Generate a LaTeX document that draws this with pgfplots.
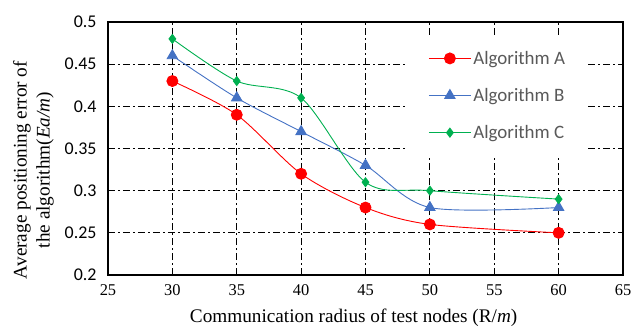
\documentclass[border=0pt]{standalone}
\usepackage{fontspec}
\setmainfont{Liberation Serif}
\newfontfamily\carlito{Carlito}
\usepackage{pgfplots}
\pgfplotsset{compat=1.18}
\definecolor{cA}{RGB}{255,0,0}
\definecolor{cB}{RGB}{68,114,196}
\definecolor{cC}{RGB}{0,176,80}
\definecolor{lgray}{RGB}{89,89,89}
\newcommand\yt[1]{{\carlito\fontsize{18}{20}\selectfont #1}}
\newcommand\xt[1]{{\fontsize{16.5}{18}\selectfont #1}}
\begin{document}
\begin{tikzpicture}
\begin{axis}[
  at={(0,0)}, anchor=south west,
  scale only axis, width=515bp, height=253bp,
  xmin=25, xmax=65, ymin=0.2, ymax=0.5,
  xtick={25,30,35,40,45,50,55,60,65},
  xticklabels={\xt{25},\xt{30},\xt{35},\xt{40},\xt{45},\xt{50},\xt{55},\xt{60},\xt{65}},
  ytick={0.2,0.25,0.3,0.35,0.4,0.45,0.5},
  yticklabels={\yt{0.2},\yt{0.25},\yt{0.3},\yt{0.35},\yt{0.4},\yt{0.45},\yt{0.5}},
  major tick length=0pt,
  axis line style={black, line width=1.4bp},
  grid=major,
  major grid style={black, line width=1.1bp, dash pattern=on 7bp off 3bp on 2bp off 3bp},
  yticklabel style={xshift=-8bp},
  xticklabel style={yshift=-6bp},
  xlabel={Communication radius of test nodes (R/\textit{m})},
  xlabel style={font=\fontsize{19.3}{21}\selectfont, at={(axis description cs:0.477,-0.17)}, anchor=center},
  ylabel={Average positioning error of\\the algorithm(\textit{Ea/m})},
  ylabel style={font=\fontsize{19.3}{23}\selectfont, align=center, at={(axis description cs:-0.1447,0.415)}, anchor=center, rotate=0},
  legend cell align=left,
  legend style={at={(axis description cs:0.583,0.949)}, anchor=north west, draw=none, fill=white,
    font=\carlito\fontsize{19}{20}\selectfont, text=lgray, inner xsep=20bp, inner ysep=14bp, row sep=18.5bp},
  legend image code/.code={\draw[mark repeat=2,mark phase=2] plot coordinates {(0bp,0bp)(21bp,0bp)(42bp,0bp)};},
  every axis plot/.append style={line width=0.9bp, smooth, tension=0.5},
]
\addplot[cA, mark=*, mark size=5.5bp, mark options={solid, fill=cA}] coordinates {
 (30,0.43) (35,0.39) (40,0.32) (45,0.28) (50,0.26) (60,0.25)};
\addlegendentry{Algorithm A}
\addplot[cB, mark=triangle*, mark size=6bp, mark options={solid, fill=cB}] coordinates {
 (30,0.46) (35,0.41) (40,0.37) (45,0.33) (50,0.28) (60,0.28)};
\addlegendentry{Algorithm B}
\addplot[cC, mark=diamond*, mark size=4.5bp, mark options={solid, fill=cC}] coordinates {
 (30,0.48) (35,0.43) (40,0.41) (45,0.31) (50,0.30) (60,0.29)};
\addlegendentry{Algorithm C}
\end{axis}
\pgfresetboundingbox
\path[use as bounding box] (-108bp,-54bp) rectangle (536bp,275bp);
\end{tikzpicture}
\end{document}
